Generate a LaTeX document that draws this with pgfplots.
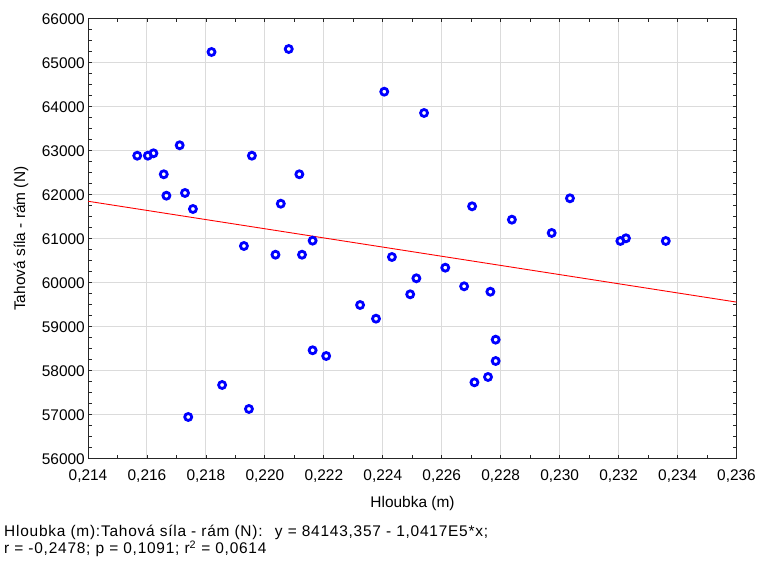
\documentclass[border=0pt]{standalone}
\usepackage{fontspec}
\setmainfont{Liberation Sans}
\usepackage{pgfplots}
\pgfplotsset{compat=1.18}
\begin{document}
\begin{tikzpicture}[x=1bp,y=1bp]
	\path[use as bounding box] (0,0) rectangle (760,565);
	\begin{axis}[
		at={(88bp,106.3bp)}, anchor=south west,
		scale only axis, width=648.5bp, height=440bp,
		xmin=0.214, xmax=0.236,
		ymin=56000, ymax=66000,
		xtick={0.214,0.216,0.218,0.220,0.222,0.224,0.226,0.228,0.230,0.232,0.234,0.236},
		ytick={56000,57000,58000,59000,60000,61000,62000,63000,64000,65000,66000},
		minor x tick num=1, minor y tick num=3,
		scaled ticks=false,
		tick align=inside,
		major tick length=3.5bp, minor tick length=3.5bp,
		tick style={black!85, line width=0.8bp},
		axis line style={black!85, line width=1bp},
		grid=major,
		major grid style={black!14, line width=1bp},
		/pgf/number format/assume math mode=true,
		ticklabel style={font=\fontsize{15.5}{18}\selectfont, inner sep=0pt},
		xticklabel style={/pgf/number format/fixed, /pgf/number format/fixed zerofill,
			/pgf/number format/precision=3, /pgf/number format/use comma, yshift=-11bp},
		yticklabel style={/pgf/number format/1000 sep={}, xshift=-3bp},
		clip=true,
	]
		\addplot [red, line width=0.9bp] coordinates {(0.214,61851) (0.236,59559)};
		\addplot [only marks, blue, mark=o, mark size=3.5bp, mark options={line width=2.8bp}] coordinates {
			(0.21567,62886) (0.21603,62886) (0.21622,62941) (0.21711,63123)
			(0.21819,65243) (0.22081,65311) (0.21657,62464) (0.21666,61977)
			(0.21729,62039) (0.21756,61675) (0.21956,62886) (0.22117,62464)
			(0.22054,61795) (0.22162,60955) (0.21929,60834)
			(0.22036,60636) (0.22126,60636) (0.22323,59493) (0.22377,59182)
			(0.22162,58464) (0.22208,58334) (0.21855,57675) (0.21946,57130)
			(0.21740,56948)
			(0.22405,64341) (0.22540,63857) (0.22703,61736) (0.22838,61432)
			(0.22973,61130) (0.23035,61918) (0.23206,60948) (0.23225,61009)
			(0.23360,60948)
			(0.22431,60584) (0.22612,60341) (0.22514,60100) (0.22493,59736)
			(0.22676,59918) (0.22765,59795) (0.22783,58705) (0.22783,58220)
			(0.22757,57857) (0.22711,57736)
		};
	\end{axis}
	\node[font=\fontsize{15.5}{18}\selectfont, anchor=base] at (412.5,57) {Hloubka (m)};
	\node[font=\fontsize{15.5}{18}\selectfont, rotate=90, anchor=base] at (25,326.3) {Tahová síla - rám (N)};
	\node[font=\fontsize{15.5}{13.5}\selectfont\addfontfeature{LetterSpace=5}, align=left, anchor=base west, inner sep=0pt] at (4,11.5)
		{Hloubka (m):Tahová síla - rám (N):\hspace{0.8em}y = 84143,357 - 1,0417E5*x;\\r = -0,2478; p = 0,1091; r\textsuperscript{2} = 0,0614};
\end{tikzpicture}
\end{document}
